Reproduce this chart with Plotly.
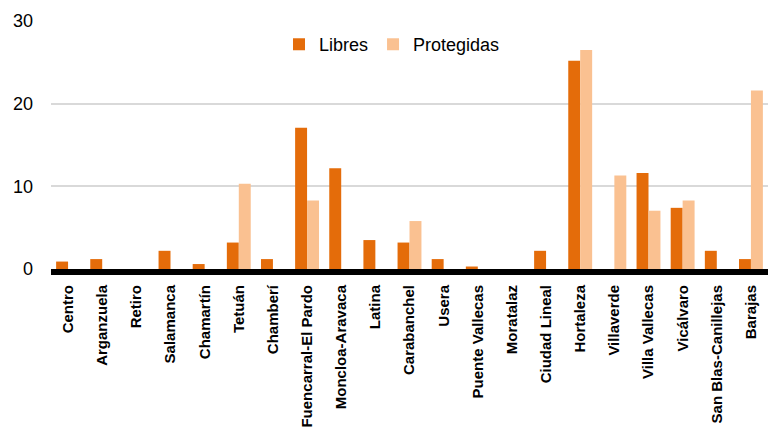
import plotly.graph_objects as go

distritos = ["Centro", "Arganzuela", "Retiro", "Salamanca", "Chamartín", "Tetuán", "Chamberí",
             "Fuencarral-El Pardo", "Moncloa-Aravaca", "Latina", "Carabanchel", "Usera",
             "Puente Vallecas", "Moratalaz", "Ciudad Lineal", "Hortaleza", "Villaverde",
             "Villa Vallecas", "Vicálvaro", "San Blas-Canillejas", "Barajas"]
libres = [0.9, 1.2, 0, 2.2, 0.6, 3.2, 1.2, 17.1, 12.2, 3.5, 3.2, 1.2, 0.3, 0, 2.2, 25.2, 0,
          11.6, 7.4, 2.2, 1.2]
protegidas = [0, 0, 0, 0, 0, 10.3, 0, 8.3, 0, 0, 5.8, 0, 0, 0, 0, 26.5, 11.3, 7.05, 8.3, 0, 21.6]
y_ticks = [0, 10, 20, 30]

fig = go.Figure()
fig.add_trace(go.Bar(x=distritos, y=libres, name="Libres",
                     marker=dict(color="#E46C0A", line=dict(width=0))))
fig.add_trace(go.Bar(x=distritos, y=protegidas, name="Protegidas",
                     marker=dict(color="#FAC191", line=dict(width=0))))

fig.update_layout(
    width=768, height=430,
    margin=dict(l=51, r=0, t=21, b=161, autoexpand=False),
    paper_bgcolor="white", plot_bgcolor="white",
    barmode="group", bargap=0.3, bargroupgap=0,
    font=dict(family="Liberation Sans, Arial, sans-serif", color="#000"),
    legend=dict(orientation="h", x=0.318, y=0.905, xanchor="left", yanchor="middle",
                font=dict(size=18), itemwidth=30, traceorder="normal",
                bgcolor="rgba(0,0,0,0)"),
    showlegend=True,
)
fig.update_xaxes(tickangle=-90, tickfont=dict(size=15, family="Liberation Sans, Arial, sans-serif"),
                 showline=True, linecolor="black", linewidth=6, showgrid=False,
                 ticks="", ticklabelstandoff=4, automargin=False,
                 tickmode="array", tickvals=distritos,
                 ticktext=["<b>" + d + "</b>" for d in distritos])
fig.update_yaxes(range=[0, 30], tickvals=y_ticks, tickfont=dict(size=18),
                 showgrid=True, gridcolor="#D9D9D9", gridwidth=1.5,
                 zeroline=False, ticks="", ticklabelstandoff=17, automargin=False)

fig.write_html("out.html", config={"displayModeBar": False},
               post_script="document.body.style.margin='0';")
